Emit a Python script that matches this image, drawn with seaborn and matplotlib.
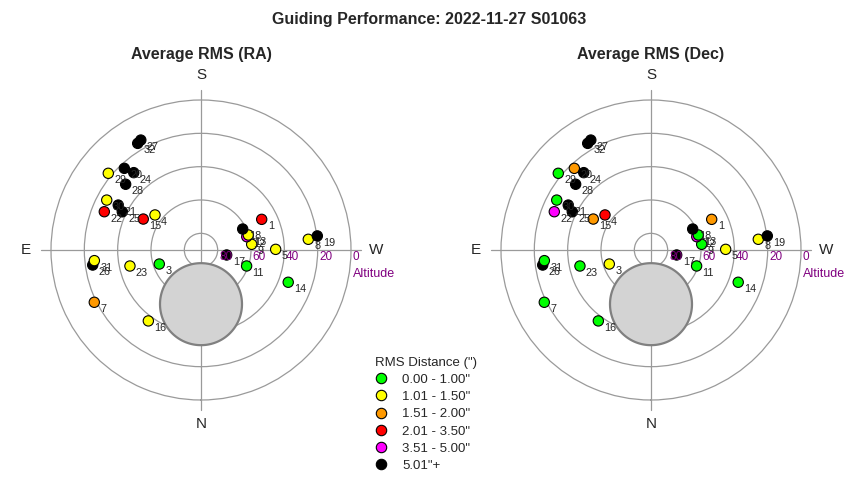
import numpy as np
import pandas as pd
import matplotlib
matplotlib.use("Agg")
import matplotlib.pyplot as plt
from matplotlib.lines import Line2D
import seaborn as sns

sns.set_style("white")
plt.rcParams['font.family'] = ['Liberation Sans', 'DejaVu Sans']

# Sesiones de guiado: azimut (N=0, E=90, S=180, W=270) y altitud en grados
point_ids = [1, 3, 4, 5, 7, 8, 9, 11, 12, 13, 14, 15, 16, 17, 18, 19, 20,
             21, 22, 23, 24, 25, 26, 27, 28, 29, 30, 31, 32]
azimuth = [243.2, 71.4, 127.3, 269.5, 63.9, 264.3, 263.6, 289.3, 253.8, 252.4,
           290.3, 118.2, 36.6, 281.0, 243.3, 263.1, 136.8, 118.5, 111.6, 77.3,
           139.0, 115.9, 82.1, 151.3, 131.1, 129.6, 117.9, 84.3, 149.3]
altitude = [49.2, 63.6, 55.3, 45.2, 18.7, 25.3, 59.4, 61.0, 61.4, 60.2,
            34.2, 50.7, 37.0, 74.3, 62.0, 19.7, 22.8, 33.5, 27.6, 46.3,
            28.5, 37.5, 24.4, 14.8, 30.0, 17.8, 26.0, 25.7, 15.6]

# categoría de RMS (índice en bin_labels) para RA y Dec
ra_bin = [3, 0, 1, 1, 2, 1, 1, 0, 4, 1, 0, 3, 1, 5, 5, 5, 5,
          5, 3, 1, 5, 5, 5, 5, 5, 1, 1, 1, 5]
dec_bin = [2, 1, 3, 1, 0, 1, 0, 0, 4, 0, 0, 2, 0, 5, 5, 5, 2,
           5, 4, 0, 5, 5, 5, 5, 5, 0, 0, 0, 5]

bin_labels = ['0.00 - 1.00"', '1.01 - 1.50"', '1.51 - 2.00"',
              '2.01 - 3.50"', '3.51 - 5.00"', '5.01"+']
bin_colors = ['#00FF00', '#FFFF00', '#FF9900', '#FF0000', '#FF00FF', '#000000']

# zona gris (exclusión): centro y radio en grados
zone_az, zone_alt, zone_radius = 0.0, 57.5, 24.6

alt_rings = [80, 60, 40, 20, 0]
PURPLE = '#800080'
GRID = '#9a9a9a'

df = pd.DataFrame({"id": point_ids, "az": azimuth, "alt": altitude})
df["theta"] = np.radians(df["az"])
df["zd"] = 90 - df["alt"]
df["RA"] = [bin_labels[b] for b in ra_bin]
df["Dec"] = [bin_labels[b] for b in dec_bin]
palette = dict(zip(bin_labels, bin_colors))

fig = plt.figure(figsize=(8.5, 4.8), dpi=100)
fig.text(0.505, 1 - 19.5 / 480, "Guiding Performance: 2022-11-27 S01063",
         ha='center', va='center', fontsize=11.5, fontweight='bold')


def draw_panel(left_px, col, title):
    ax = fig.add_axes([left_px / 850, 80 / 480, 300 / 850, 300 / 480], projection='polar')
    ax.set_theta_zero_location('S')
    ax.set_theta_direction(-1)
    ax.set_ylim(0, 90)
    ax.set_rgrids([90 - a for a in alt_rings[:-1]])
    ax.set_thetagrids([0, 90, 180, 270])
    ax.set_xticklabels([])
    ax.set_yticklabels([])
    ax.xaxis.grid(False)
    ax.yaxis.grid(True, color=GRID, lw=0.9)
    ax.spines['polar'].set_color(GRID)
    ax.spines['polar'].set_linewidth(0.9)
    ax.set_facecolor('white')

    # ejes N-S y E-W, un poco más largos que el círculo exterior
    for t in [0, np.pi / 2]:
        ax.plot([t, t], [0, 96], color=GRID, lw=0.9, clip_on=False, zorder=1)
        ax.plot([t + np.pi, t + np.pi], [0, 96], color=GRID, lw=0.9, clip_on=False, zorder=1)

    # zona gris
    cz = 90 - zone_alt
    cx, cy = cz * np.sin(np.radians(zone_az)), cz * np.cos(np.radians(zone_az))
    phi = np.linspace(0, 2 * np.pi, 200)
    px, py = cx + zone_radius * np.cos(phi), cy + zone_radius * np.sin(phi)
    ax.fill(np.arctan2(px, py), np.hypot(px, py), facecolor='#d3d3d3',
            edgecolor='#808080', lw=1.6, zorder=2)

    sns.scatterplot(data=df, x="theta", y="zd", hue=col, palette=palette,
                    hue_order=bin_labels, s=55, edgecolor='black', linewidth=0.8,
                    legend=False, ax=ax, zorder=3)
    ax.set_xlabel("")
    ax.set_ylabel("")

    for _, row in df.iterrows():
        ax.annotate(str(row["id"]), (row["theta"], row["zd"]), xytext=(4.3, -5),
                    textcoords='offset points', ha='left', va='center', fontsize=7.8,
                    zorder=4)

    for a in alt_rings:
        ax.annotate(str(a), (np.radians(270), 90 - a), xytext=(1.2, -5.3),
                    textcoords='offset points', ha='left', va='center',
                    fontsize=8.5, color=PURPLE, annotation_clip=False)
    ax.annotate("Altitude", (np.radians(270), 90), xytext=(1.2, -17),
                textcoords='offset points', ha='left', va='center',
                fontsize=9, color=PURPLE, annotation_clip=False)

    for txt, x, y in [("S", 0.5, 1.083), ("N", 0.5, -0.08),
                      ("E", -0.083, 0.5), ("W", 1.083, 0.5)]:
        ax.text(x, y, txt, transform=ax.transAxes, ha='center', va='center', fontsize=11)
    ax.text(0.5, 1.15, title, transform=ax.transAxes, ha='center', va='center',
            fontsize=11.5, fontweight='bold')
    return ax


draw_panel(51, "RA", "Average RMS (RA)")
draw_panel(501, "Dec", "Average RMS (Dec)")

handles = [Line2D([], [], marker='o', ls='', markersize=7.5, markerfacecolor=c,
                  markeredgecolor='black', markeredgewidth=0.8) for c in bin_colors]
fig.legend(handles, bin_labels, title='RMS Distance (")', loc='upper left',
           bbox_to_anchor=(368 / 850, 1 - 350 / 480), frameon=False, fontsize=9.5,
           title_fontsize=9.5, alignment='left', borderpad=0, handlelength=1.0,
           handletextpad=1.1, labelspacing=0.38)

fig.savefig("out.png", dpi=100, facecolor='white')
